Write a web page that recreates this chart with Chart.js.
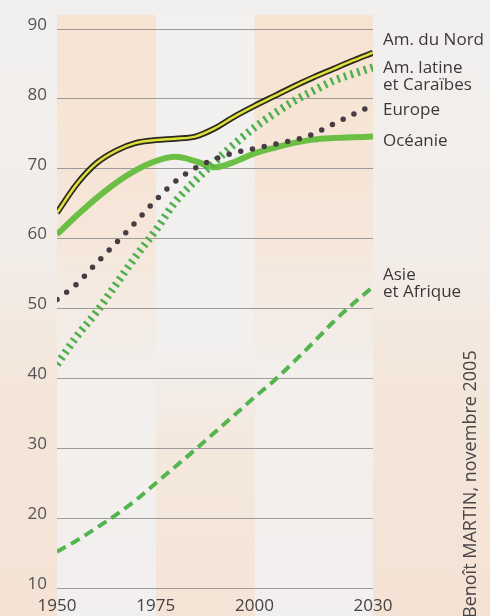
<!DOCTYPE html>
<html>
<head>
<meta charset="utf-8">
<script src="https://cdn.jsdelivr.net/npm/chart.js@4"></script>
<style>
  body { margin: 0; background: #f2f0ef; }
  #chart { display: block; }
</style>
</head>
<body>
<canvas id="chart" width="490" height="616"></canvas>
<script>
// années et espérance de vie
const years = [1950, 1955, 1960, 1965, 1970, 1975, 1980, 1985, 1990, 1995, 2000, 2005, 2010, 2015, 2020, 2025, 2030];
const amNord = [63.7, 67.8, 70.8, 72.6, 73.7, 74.1, 74.3, 74.6, 75.8, 77.5, 79.0, 80.4, 81.8, 83.1, 84.3, 85.5, 86.6];
const amLatine = [42.0, 46.0, 49.5, 53.5, 57.5, 61.2, 65.3, 68.3, 71.0, 73.6, 75.9, 77.9, 79.7, 81.2, 82.6, 83.6, 84.5];
const europe = [51.3, 53.5, 56.5, 59.4, 62.4, 65.5, 68.2, 70.1, 71.4, 72.3, 72.9, 73.5, 74.1, 75.0, 76.4, 77.8, 79.1];
const oceanie = [60.6, 63.3, 65.8, 68.0, 69.8, 71.1, 71.7, 71.1, 70.2, 71.0, 72.2, 73.0, 73.7, 74.2, 74.4, 74.5, 74.6];
const asieAfrique = [15.2, 16.8, 18.6, 20.5, 22.6, 25.0, 27.4, 29.8, 32.3, 34.8, 37.3, 39.7, 42.4, 45.2, 48.1, 50.7, 53.1];

const xTicks = [1950, 1975, 2000, 2030];
const bandYears = [[1950, 1975], [2000, 2030]];
const credit = "Benoît MARTIN, novembre 2005";

const FONT = "'Open Sans', 'Noto Sans', sans-serif";

function pts(values) {
    return values.map((v, i) => ({ x: years[i], y: v }));
}

// fond façon papier : bandes pêche en haut, damier inversé en bas
const backgroundPlugin = {
    id: 'background',
    beforeDraw(chart) {
        const ctx = chart.ctx;
        const area = chart.chartArea;
        const xs = chart.scales.x;
        const H = chart.height;
        const top = area.top - 14;

        let g = ctx.createLinearGradient(0, 0, 0, H);
        g.addColorStop(0, '#f1f0ef');
        g.addColorStop(0.4, '#f2ede9');
        g.addColorStop(0.62, '#f4e6da');
        g.addColorStop(1, '#f4e3d5');
        ctx.save();
        ctx.fillStyle = g;
        ctx.fillRect(0, 0, chart.width, H);

        // colonne du milieu (1975-2000)
        let x0 = xs.getPixelForValue(1975), x1 = xs.getPixelForValue(2000);
        g = ctx.createLinearGradient(0, top, 0, H);
        g.addColorStop(0, '#f2f1f0');
        g.addColorStop(0.55, '#f2f0ef');
        g.addColorStop(0.72, '#f4e8dd');
        g.addColorStop(1, '#f4e4d6');
        ctx.fillStyle = g;
        ctx.fillRect(x0, top, x1 - x0, H - top);

        bandYears.forEach(([a, b]) => {
            const l = xs.getPixelForValue(a), r = xs.getPixelForValue(b);
            const bg = ctx.createLinearGradient(0, top, 0, H);
            bg.addColorStop(0, '#f7e3d2');
            bg.addColorStop(0.35, '#f6e6d9');
            bg.addColorStop(0.6, '#f2efec');
            bg.addColorStop(1, '#f2f0ef');
            ctx.fillStyle = bg;
            ctx.fillRect(l, top, r - l, H - top);
        });
        ctx.restore();
    }
};

// étiquettes en bout de courbe + crédit vertical
const labelsPlugin = {
    id: 'endLabels',
    afterDraw(chart) {
        const ctx = chart.ctx;
        const ys = chart.scales.y;
        const x = chart.chartArea.right + 10;
        const items = [
            { lines: ['Am. du Nord'], value: amNord[amNord.length - 1], dy: -8 },
            { lines: ['Am. latine', 'et Caraïbes'], value: amLatine[amLatine.length - 1], dy: 6 },
            { lines: ['Europe'], value: europe[europe.length - 1], dy: 10 },
            { lines: ['Océanie'], value: oceanie[oceanie.length - 1], dy: 9 },
            { lines: ['Asie', 'et Afrique'], value: asieAfrique[asieAfrique.length - 1], dy: -7 }
        ];
        ctx.save();
        ctx.font = '17px ' + FONT;
        ctx.fillStyle = '#3c383a';
        ctx.textAlign = 'left';
        ctx.textBaseline = 'alphabetic';
        items.forEach(it => {
            const y = ys.getPixelForValue(it.value) + it.dy;
            it.lines.forEach((t, i) => ctx.fillText(t, x, y + i * 17));
        });

        ctx.font = '18px ' + FONT;
        ctx.translate(471, 618);
        ctx.rotate(-Math.PI / 2);
        ctx.textBaseline = 'middle';
        ctx.fillStyle = '#4a4547';
        ctx.fillText(credit, 0, 0);
        ctx.restore();
    }
};

const ctx = document.getElementById('chart').getContext('2d');
new Chart(ctx, {
    type: 'line',
    data: {
        datasets: [
            {
                label: 'Am. du Nord',
                data: pts(amNord),
                borderColor: '#dfe23c',
                borderWidth: 2.5,
                order: 0
            },
            {
                label: 'Am. du Nord (contour)',
                data: pts(amNord),
                borderColor: '#2b2a1c',
                borderWidth: 6,
                order: 1
            },
            {
                label: 'Europe',
                data: pts(europe),
                borderColor: '#463c42',
                borderWidth: 5.5,
                borderDash: [0, 12],
                borderCapStyle: 'round',
                order: 2
            },
            {
                label: 'Am. latine et Caraïbes',
                data: pts(amLatine),
                borderColor: '#4fb04d',
                borderWidth: 8,
                borderDash: [2.5, 4.5],
                borderCapStyle: 'butt',
                order: 3
            },
            {
                label: 'Océanie',
                data: pts(oceanie),
                borderColor: '#6cbf45',
                borderWidth: 6,
                order: 4
            },
            {
                label: 'Asie et Afrique',
                data: pts(asieAfrique),
                borderColor: '#52b54e',
                borderWidth: 4,
                borderDash: [10, 6],
                order: 5
            }
        ]
    },
    options: {
        responsive: false,
        animation: false,
        layout: { padding: { top: 29, right: 117, left: 0, bottom: 0 } },
        elements: {
            point: { radius: 0 },
            line: { cubicInterpolationMode: 'monotone', fill: false }
        },
        plugins: {
            legend: { display: false },
            tooltip: { enabled: false }
        },
        scales: {
            x: {
                type: 'linear',
                min: 1950,
                max: 2030,
                afterBuildTicks: (scale) => { scale.ticks = xTicks.map(v => ({ value: v })); },
                afterFit: (scale) => { scale.height = 28; },
                grid: { display: false },
                border: { display: false },
                ticks: {
                    font: { family: FONT, size: 17 },
                    color: '#454244',
                    padding: 0,
                    maxRotation: 0,
                    autoSkip: false,
                    callback: (v) => String(v)
                }
            },
            y: {
                min: 10,
                max: 90,
                afterFit: (scale) => { scale.width = 57; },
                grid: { color: '#9d9a9a', lineWidth: 1, drawTicks: false },
                border: { display: false },
                ticks: {
                    stepSize: 10,
                    font: { family: FONT, size: 17 },
                    color: '#555254',
                    padding: 10,
                    labelOffset: -4
                }
            }
        }
    },
    plugins: [backgroundPlugin, labelsPlugin]
});
</script>
</body>
</html>
